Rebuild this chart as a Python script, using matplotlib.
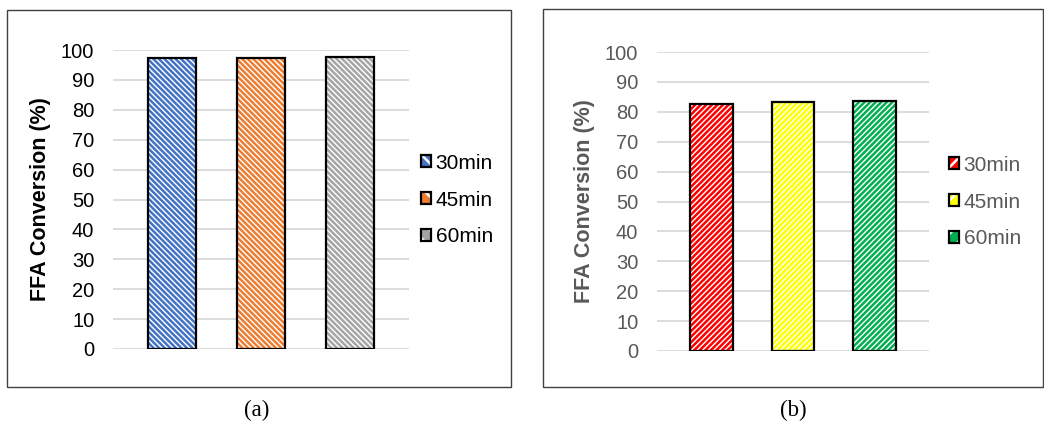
import matplotlib
matplotlib.use("Agg")
import matplotlib.pyplot as plt
from matplotlib.patches import Rectangle, Patch

# ---- data ----
series_labels = ["30min", "45min", "60min"]
values_a = [97.3, 97.4, 97.6]
values_b = [82.7, 83.4, 83.5]
colors_a = ["#4472C4", "#ED7D31", "#A5A5A5"]
colors_b = ["#FF0000", "#FFFF00", "#00B050"]
yticks = [0, 10, 20, 30, 40, 50, 60, 70, 80, 90, 100]
ylabel = "FFA Conversion (%)"
captions = ["(a)", "(b)"]

plt.rcParams["font.family"] = ["Liberation Sans", "DejaVu Sans"]
plt.rcParams["hatch.linewidth"] = 1.8

W, H = 1044, 422
fig = plt.figure(figsize=(W / 100, H / 100), dpi=100)


def fbox(x0, y0, x1, y1):
    """pixel box (top-left origin) -> figure fraction [l, b, w, h]"""
    return [x0 / W, 1 - y1 / H, (x1 - x0) / W, (y1 - y0) / H]


def panel(axbox, frame, values, colors, hatch, text_color, halfrange, width,
          label_x, leg_anchor, caption, cap_x):
    # outer frame
    l, b, w, h = fbox(*frame)
    fig.patches.append(Rectangle((l, b), w, h, transform=fig.transFigure,
                                 fill=False, edgecolor="#404040", linewidth=1.0))
    ax = fig.add_axes(fbox(*axbox))
    x = list(range(len(values)))
    ax.bar(x, values, width=width, color="white", edgecolor=colors,
           hatch=hatch, linewidth=0, zorder=2)
    ax.bar(x, values, width=width, fill=False, edgecolor="black",
           linewidth=1.6, zorder=3)
    ax.set_xlim(1 - halfrange, 1 + halfrange)
    ax.set_ylim(0, 100)
    ax.set_yticks(yticks)
    ax.set_xticks([])
    ax.grid(axis="y", color="#D9D9D9", linewidth=1.3, zorder=0)
    ax.set_axisbelow(True)
    for s in ax.spines.values():
        s.set_visible(False)
    ax.tick_params(axis="y", length=0, pad=13.5, labelsize=14.5,
                   labelcolor=text_color)
    ax.set_ylabel(ylabel, fontsize=15.5, fontweight="bold", color=text_color)
    ax.yaxis.set_label_coords(label_x, 0.5)
    handles = []
    for c in colors:
        handles.append((Patch(facecolor=c, edgecolor="white", hatch=hatch[:2],
                              linewidth=0),
                        Patch(fill=False, edgecolor="black", linewidth=1.6)))
    ax.legend(handles, series_labels, loc="center left",
              bbox_to_anchor=(leg_anchor[0] / W, 1 - leg_anchor[1] / H),
              bbox_transform=fig.transFigure, frameon=False, fontsize=15,
              labelcolor=text_color, handlelength=0.5, handleheight=0.5,
              handletextpad=0.2, labelspacing=0.85, borderaxespad=0,
              borderpad=0)
    fig.text(cap_x / W, 1 - 410 / H, caption, ha="center", va="center",
             fontsize=16.5, family="Liberation Serif")
    return ax


panel((113, 50, 409, 349), (7, 10, 511, 387), values_a, colors_a,
      "\\\\\\\\\\\\", "black", 1.654, 0.536, -62 / 296, (421, 200),
      captions[0], 257)
panel((657, 52, 929, 351), (543, 9, 1043, 387), values_b, colors_b,
      "//////", "#595959", 1.659, 0.524, -62 / 272, (949, 202),
      captions[1], 793)

fig.savefig("out.png", dpi=100)
